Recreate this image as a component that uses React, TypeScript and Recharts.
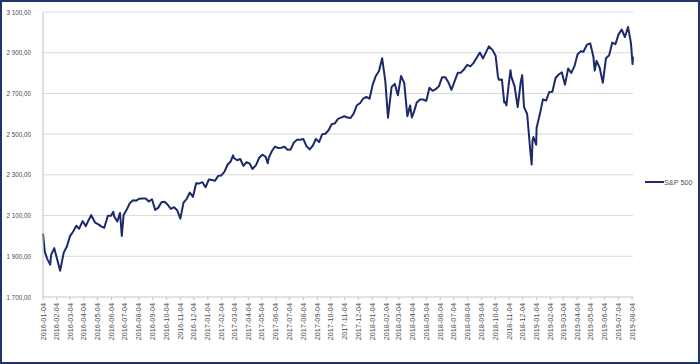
import React from "react";
import { LineChart, Line, XAxis, YAxis, CartesianGrid, Legend } from "recharts";

const seriesName = "S&P 500";

const dates = [
  "2016-01-04","2016-01-08","2016-01-13","2016-01-15","2016-01-20","2016-01-22","2016-01-29",
  "2016-02-05","2016-02-11","2016-02-19","2016-02-26","2016-03-04","2016-03-11","2016-03-18","2016-03-24","2016-04-01",
  "2016-04-08","2016-04-15","2016-04-20","2016-04-29","2016-05-06","2016-05-13","2016-05-19","2016-05-27",
  "2016-06-03","2016-06-08","2016-06-10","2016-06-17","2016-06-23","2016-06-27","2016-07-01","2016-07-08",
  "2016-07-15","2016-07-22","2016-07-29","2016-08-05","2016-08-12","2016-08-19","2016-08-26","2016-09-02",
  "2016-09-09","2016-09-16","2016-09-23","2016-09-30","2016-10-07","2016-10-14","2016-10-21","2016-10-28",
  "2016-11-04","2016-11-11","2016-11-18","2016-11-25","2016-12-02","2016-12-09","2016-12-16","2016-12-23","2016-12-30",
  "2017-01-06","2017-01-13","2017-01-20","2017-01-27","2017-02-03","2017-02-10","2017-02-17","2017-02-24",
  "2017-03-01","2017-03-03","2017-03-10","2017-03-17","2017-03-24","2017-03-31","2017-04-07","2017-04-13",
  "2017-04-21","2017-04-28","2017-05-05","2017-05-12","2017-05-17","2017-05-19","2017-05-26","2017-06-02",
  "2017-06-09","2017-06-16","2017-06-23","2017-06-30","2017-07-07","2017-07-14","2017-07-21","2017-07-28",
  "2017-08-04","2017-08-11","2017-08-18","2017-08-25","2017-09-01","2017-09-08","2017-09-15","2017-09-22",
  "2017-09-29","2017-10-06","2017-10-13","2017-10-20","2017-10-27","2017-11-03","2017-11-10","2017-11-17",
  "2017-11-24","2017-12-01","2017-12-08","2017-12-15","2017-12-22","2017-12-29",
  "2018-01-05","2018-01-12","2018-01-19","2018-01-26","2018-02-02","2018-02-08","2018-02-16","2018-02-23",
  "2018-03-02","2018-03-09","2018-03-16","2018-03-23","2018-03-29","2018-04-02","2018-04-06","2018-04-13",
  "2018-04-20","2018-04-27","2018-05-04","2018-05-11","2018-05-18","2018-05-25","2018-06-01","2018-06-08",
  "2018-06-15","2018-06-22","2018-06-29","2018-07-06","2018-07-13","2018-07-20","2018-07-27","2018-08-03",
  "2018-08-10","2018-08-17","2018-08-24","2018-08-31","2018-09-07","2018-09-14","2018-09-20","2018-09-28",
  "2018-10-05","2018-10-10","2018-10-12","2018-10-19","2018-10-24","2018-10-26","2018-10-29","2018-11-02",
  "2018-11-07","2018-11-09","2018-11-16","2018-11-23","2018-11-30","2018-12-03","2018-12-07","2018-12-14",
  "2018-12-21","2018-12-24","2018-12-26","2018-12-28",
  "2019-01-03","2019-01-04","2019-01-11","2019-01-18","2019-01-25","2019-02-01","2019-02-08","2019-02-15",
  "2019-02-22","2019-03-01","2019-03-08","2019-03-15","2019-03-22","2019-03-29","2019-04-05","2019-04-12",
  "2019-04-18","2019-04-26","2019-05-03","2019-05-10","2019-05-13","2019-05-17","2019-05-24","2019-05-31",
  "2019-06-07","2019-06-14","2019-06-21","2019-06-28","2019-07-05","2019-07-12","2019-07-19","2019-07-26",
  "2019-08-01","2019-08-02","2019-08-05","2019-08-06",
];

const sp500 = [
  2012, 1922, 1890, 1880, 1859, 1907, 1940,
  1880, 1829, 1918, 1948, 1999, 2022, 2050, 2035, 2073,
  2048, 2081, 2102, 2065, 2057, 2046, 2040, 2099,
  2099, 2119, 2096, 2071, 2113, 2000, 2103, 2130,
  2162, 2175, 2173, 2183, 2184, 2184, 2169, 2180,
  2128, 2139, 2165, 2168, 2153, 2133, 2141, 2126,
  2085, 2164, 2182, 2213, 2192, 2259, 2258, 2264, 2239,
  2277, 2275, 2271, 2295, 2297, 2316, 2351, 2367,
  2396, 2383, 2372, 2378, 2344, 2363, 2355, 2329,
  2348, 2384, 2399, 2390, 2357, 2382, 2416, 2439,
  2432, 2433, 2438, 2423, 2425, 2459, 2472, 2472,
  2476, 2441, 2425, 2443, 2477, 2461, 2500, 2502,
  2519, 2549, 2553, 2575, 2581, 2588, 2582, 2579,
  2602, 2642, 2652, 2675, 2683, 2674,
  2743, 2786, 2810, 2873, 2762, 2581, 2732, 2747,
  2691, 2786, 2752, 2588, 2641, 2582, 2604, 2656,
  2670, 2670, 2663, 2728, 2713, 2721, 2735, 2779,
  2780, 2755, 2718, 2760, 2801, 2802, 2819, 2840,
  2833, 2850, 2875, 2901, 2872, 2904, 2931, 2914,
  2885, 2785, 2767, 2768, 2656, 2658, 2641, 2723,
  2814, 2781, 2736, 2633, 2760, 2790, 2633, 2599,
  2417, 2351, 2468, 2486,
  2448, 2532, 2596, 2671, 2665, 2707, 2708, 2776,
  2793, 2804, 2743, 2822, 2801, 2834, 2893, 2907,
  2905, 2940, 2946, 2881, 2812, 2860, 2826, 2752,
  2873, 2887, 2950, 2942, 2990, 3014, 2977, 3026,
  2953, 2932, 2844, 2881,
];

const monthTicks = [
  "2016-01-04","2016-02-04","2016-03-04","2016-04-04","2016-05-04","2016-06-04","2016-07-04","2016-08-04",
  "2016-09-04","2016-10-04","2016-11-04","2016-12-04","2017-01-04","2017-02-04","2017-03-04","2017-04-04",
  "2017-05-04","2017-06-04","2017-07-04","2017-08-04","2017-09-04","2017-10-04","2017-11-04","2017-12-04",
  "2018-01-04","2018-02-04","2018-03-04","2018-04-04","2018-05-04","2018-06-04","2018-07-04","2018-08-04",
  "2018-09-04","2018-10-04","2018-11-04","2018-12-04","2019-01-04","2019-02-04","2019-03-04","2019-04-04",
  "2019-05-04","2019-06-04","2019-07-04","2019-08-04",
];

const yTicks = [1700, 1900, 2100, 2300, 2500, 2700, 2900, 3100];

const toTs = (s: string) => {
  const [y, m, d] = s.split("-").map(Number);
  return Date.UTC(y, m - 1, d);
};

const fmtDate = (t: number) => {
  const d = new Date(t);
  const mm = String(d.getUTCMonth() + 1).padStart(2, "0");
  const dd = String(d.getUTCDate()).padStart(2, "0");
  return `${d.getUTCFullYear()}-${mm}-${dd}`;
};

const fmtNum = (v: number) => {
  const s = Math.round(v).toString();
  const withSep = s.replace(/\B(?=(\d{3})+(?!\d))/g, " ");
  return `${withSep},00`;
};

const data = dates.map((d, i) => ({ t: toTs(d), v: sp500[i] }));
const tickTs = monthTicks.map(toTs);

const FONT = "'Liberation Sans', Arial, sans-serif";
const LINE = "#1c2a6b";
const TXT = "#4d4d4d";

const XTick = (props: any) => {
  const { x, y, payload } = props;
  const ty = y + 1;
  return (
    <text
      x={x}
      y={ty}
      transform={`rotate(-90, ${x}, ${ty})`}
      textAnchor="end"
      dominantBaseline="central"
      fontSize={7.3}
      fill={TXT}
      fontFamily={FONT}
    >
      {fmtDate(payload.value)}
    </text>
  );
};

const YTick = (props: any) => {
  const { y, payload } = props;
  return (
    <text
      x={29}
      y={y}
      textAnchor="end"
      dominantBaseline="central"
      fontSize={6.3}
      fill={TXT}
      fontFamily={FONT}
    >
      {fmtNum(payload.value)}
    </text>
  );
};

const LegendContent = () => (
  <svg width={56} height={14}>
    <line x1={0} y1={7} x2={19} y2={7} stroke={LINE} strokeWidth={2} />
    <text x={19} y={7} dominantBaseline="central" fontSize={7.3} fill={TXT} fontFamily={FONT}>
      {seriesName}
    </text>
  </svg>
);

export default function App() {
  return (
    <div
      style={{
        position: "absolute",
        left: 0,
        top: 0,
        width: 700,
        height: 364,
        boxSizing: "border-box",
        border: "2px solid #23336b",
        background: "#fff",
      }}
    >
      <LineChart
        width={696}
        height={360}
        data={data}
        margin={{ top: 10, right: 65, bottom: 2, left: 0 }}
      >
        <CartesianGrid vertical={false} stroke="#d9d9d9" />
        <XAxis
          dataKey="t"
          type="number"
          scale="time"
          domain={[toTs("2016-01-04"), toTs("2019-08-06")]}
          ticks={tickTs}
          interval={0}
          tick={<XTick />}
          tickSize={3}
          tickMargin={2}
          height={45}
          axisLine={{ stroke: "#d9d9d9" }}
          tickLine={{ stroke: "#bfbfbf" }}
        />
        <YAxis
          type="number"
          domain={[1700, 3100]}
          ticks={yTicks}
          interval={0}
          width={41}
          tick={<YTick />}
          tickLine={false}
          tickSize={0}
          tickMargin={10}
          axisLine={{ stroke: "#bfbfbf" }}
        />
        <Legend
          content={<LegendContent />}
          wrapperStyle={{ left: 643, top: 173, width: 56 }}
        />
        <Line
          type="linear"
          dataKey="v"
          name={seriesName}
          stroke={LINE}
          strokeWidth={2}
          dot={false}
          isAnimationActive={false}
          strokeLinejoin="round"
        />
      </LineChart>
    </div>
  );
}
